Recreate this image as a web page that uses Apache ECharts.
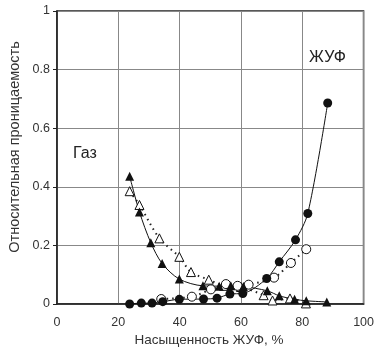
<!DOCTYPE html>
<html>
<head>
<meta charset="utf-8">
<script src="https://cdn.jsdelivr.net/npm/echarts@6/dist/echarts.min.js"></script>
<style>html,body{margin:0;padding:0;background:#fff}#c{width:377px;height:353px}</style>
</head>
<body>
<div id="c"></div>
<script>
// Газ, filled triangles (solid line)
const gasFilledX = [23.7, 26.9, 30.6, 34.3, 39.9, 47.6, 52.9, 56.7, 60.8, 68.6, 72.5, 77.5, 81.3, 88.0];
const gasFilledY = [0.436, 0.314, 0.209, 0.138, 0.085, 0.062, 0.061, 0.062, 0.060, 0.045, 0.028, 0.016, 0.011, 0.007];
// Газ, open triangles (dotted line)
const gasOpenX = [23.7, 26.9, 33.4, 39.9, 43.7, 49.5, 54.5, 60.0, 67.4, 70.3, 76.0, 81.2];
const gasOpenY = [0.385, 0.338, 0.224, 0.161, 0.109, 0.083, 0.062, 0.058, 0.030, 0.012, 0.019, 0.002];
// ЖУФ, filled circles (solid line)
const zhufFilledX = [23.7, 27.5, 31.0, 34.5, 39.9, 47.8, 52.2, 56.4, 60.6, 68.4, 72.5, 77.8, 81.8, 88.3];
const zhufFilledY = [0.000, 0.003, 0.003, 0.008, 0.016, 0.017, 0.020, 0.034, 0.036, 0.087, 0.144, 0.219, 0.309, 0.686];
// ЖУФ, open circles (dotted line)
const zhufOpenX = [34.0, 44.0, 50.2, 55.1, 58.9, 62.5, 70.8, 76.3, 81.3];
const zhufOpenY = [0.017, 0.025, 0.050, 0.068, 0.062, 0.066, 0.090, 0.140, 0.187];

const xTicks = [0, 20, 40, 60, 80, 100];
const yTicks = [0, 0.2, 0.4, 0.6, 0.8, 1];
const labelGas = 'Газ';
const labelZhuf = 'ЖУФ';
const xName = 'Насыщенность ЖУФ, %';
const yName = 'Относительная проницаемость';

const zip = (xs, ys) => xs.map((x, i) => [x, ys[i]]);
const font = 'Liberation Sans, Arial, sans-serif';

const chart = echarts.init(document.getElementById('c'));
chart.setOption({
  animation: false,
  backgroundColor: '#fff',
  grid: { left: 57, right: 11, top: 11, bottom: 49, show: true, borderColor: '#222', borderWidth: 1.5 },
  xAxis: {
    type: 'value', min: 0, max: 100, interval: 20,
    axisLine: { show: true, lineStyle: { color: '#222', width: 1.5 } },
    axisTick: { show: false },
    axisLabel: { fontFamily: font, fontSize: 12.5, color: '#333', margin: 12, formatter: v => xTicks.includes(v) ? String(v) : '' },
    splitLine: { show: true, lineStyle: { color: '#888', width: 1 } }
  },
  yAxis: {
    type: 'value', min: 0, max: 1, interval: 0.2,
    axisLine: { show: true, lineStyle: { color: '#222', width: 1.5 } },
    axisTick: { show: true, length: 4, inside: false, lineStyle: { color: '#222' } },
    axisLabel: { fontFamily: font, fontSize: 12.5, color: '#333', margin: 7,
      formatter: v => { const t = yTicks.find(k => Math.abs(k - v) < 1e-9); return t === undefined ? '' : String(t); } },
    splitLine: { show: true, lineStyle: { color: '#888', width: 1 } }
  },
  graphic: [
    { type: 'text', left: 73, top: 146, style: { text: labelGas, fontFamily: font, fontSize: 16, fill: '#222' } },
    { type: 'text', left: 309, top: 50, style: { text: labelZhuf, fontFamily: font, fontSize: 16, fill: '#222' } },
    { type: 'text', x: 15, y: 147, rotation: Math.PI / 2,
      style: { text: yName, fontFamily: font, fontSize: 14.5, fill: '#333', align: 'center', verticalAlign: 'middle' } },
    { type: 'text', x: 209, y: 340,
      style: { text: xName, fontFamily: font, fontSize: 13.5, fill: '#333', align: 'center', verticalAlign: 'middle' } }
  ],
  series: [
    { type: 'line', data: zip(gasOpenX, gasOpenY), smooth: 0.3, symbol: 'triangle', symbolSize: 9,
      lineStyle: { color: '#222', width: 2, type: [1.5, 4] }, itemStyle: { color: '#fff', borderColor: '#111', borderWidth: 1 } },
    { type: 'line', data: zip(zhufOpenX, zhufOpenY), smooth: 0.3, symbol: 'circle', symbolSize: 9,
      lineStyle: { color: '#222', width: 2, type: [1.5, 4] }, itemStyle: { color: '#fff', borderColor: '#111', borderWidth: 1 } },
    { type: 'line', data: zip(gasFilledX, gasFilledY), smooth: 0.3, symbol: 'triangle', symbolSize: 9,
      lineStyle: { color: '#111', width: 1 }, itemStyle: { color: '#111', borderColor: '#111', borderWidth: 0 } },
    { type: 'line', data: zip(zhufFilledX, zhufFilledY), smooth: 0.3, symbol: 'circle', symbolSize: 9,
      lineStyle: { color: '#111', width: 1 }, itemStyle: { color: '#111', borderColor: '#111', borderWidth: 0 } }
  ]
});
</script>
</body>
</html>
